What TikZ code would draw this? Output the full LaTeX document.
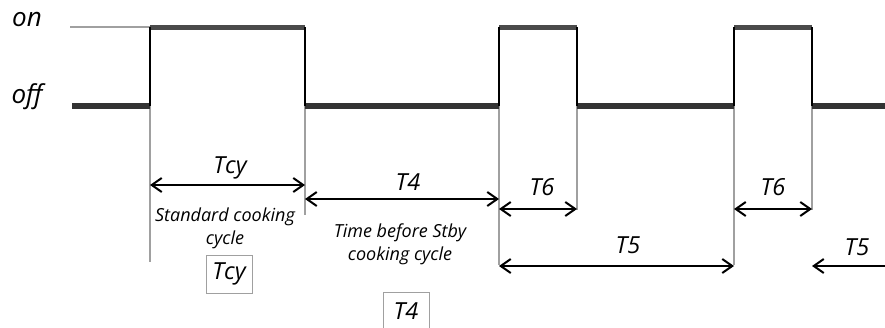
\documentclass[tikz,border=0pt]{standalone}
\usepackage{fontspec}
\setmainfont{Open Sans}
\usetikzlibrary{arrows.meta}
\definecolor{signalgray}{HTML}{333333}
\definecolor{pulsegray}{HTML}{4A4A4A}
\definecolor{guidegray}{HTML}{A0A0A0}
\begin{document}
\begin{tikzpicture}[x=1pt, y=-1pt,
    low/.style ={line width=6pt, signalgray},
    high/.style ={line width=5pt, pulsegray},
    edge/.style ={line width=1.6pt, black},
    guide/.style ={line width=1.4pt, guidegray},
    span/.style ={line width=2pt, {Straight Barb[length=10pt,width=14pt]}-{Straight Barb[length=10pt,width=14pt]}},
    halfspan/.style ={line width=2pt, -{Straight Barb[length=10pt,width=14pt]}},
    label/.style ={font=\itshape\fontsize{23.5}{25}\selectfont, inner sep=0pt},
    note/.style ={font=\itshape\fontsize{18}{23}\selectfont, align=center, inner sep=0pt},
    tag/.style ={label, draw=guidegray, line width=0.8pt, minimum width=46pt, minimum height=38pt}]
   \useasboundingbox (0,0) rectangle (885,327);

   % signal corners
   \coordinate (O) at (70,27);
   \coordinate (A) at (72,106);
   \coordinate (B) at (150,106);
   \coordinate (C) at (150,27);
   \coordinate (D) at (305,27);
   \coordinate (E) at (305,106);
   \coordinate (F) at (499,106);
   \coordinate (G) at (499,27);
   \coordinate (H) at (577,27);
   \coordinate (I) at (577,106);
   \coordinate (J) at (734,106);
   \coordinate (K) at (734,27);
   \coordinate (L) at (812,27);
   \coordinate (M) at (812,106);
   \coordinate (N) at (885,106);

   % guide line ends
   \coordinate (B1) at (150,262);
   \coordinate (E1) at (305,215);
   \coordinate (F1) at (499,265);
   \coordinate (I1) at (577,210);
   \coordinate (J1) at (734,265);
   \coordinate (M1) at (812,210);

   % arrow ends
   \coordinate (tcyA) at (150,185);
   \coordinate (tcyB) at (305,185);
   \coordinate (tfourA) at (305,199);
   \coordinate (tfourB) at (499,199);
   \coordinate (tsixA) at (499,209);
   \coordinate (tsixB) at (577,209);
   \coordinate (tsixC) at (734,209);
   \coordinate (tsixD) at (812,209);
   \coordinate (tfiveA) at (499,266);
   \coordinate (tfiveB) at (734,266);
   \coordinate (tfiveC) at (885,266);
   \coordinate (tfiveD) at (812,266);

   \node[label, font=\itshape\fontsize{26}{27}\selectfont] (on)  at (27,19)  {on};
   \node[label, font=\itshape\fontsize{26}{27}\selectfont] (off) at (27,97) {off};

   \draw[guide] (B) to (B1);
   \draw[guide] (E) to (E1);
   \draw[guide] (F) to (F1);
   \draw[guide] (I) to (I1);
   \draw[guide] (J) to (J1);
   \draw[guide] (M) to (M1);
   \draw[guide] (O) to (C);

   \draw[low] (A) to (B);
   \draw[low] (E) to (F);
   \draw[low] (I) to (J);
   \draw[low] (M) to (N);
   \draw[high] (C) to (D);
   \draw[high] (G) to (H);
   \draw[high] (K) to (L);

   \draw[edge] (B) to (C);
   \draw[edge] (D) to (E);
   \draw[edge] (F) to (G);
   \draw[edge] (H) to (I);
   \draw[edge] (J) to (K);
   \draw[edge] (L) to (M);

   \draw[span] (tcyA) to (tcyB);
   \draw[span] (tfourA) to (tfourB);
   \draw[span] (tsixA) to (tsixB);
   \draw[span] (tsixC) to (tsixD);
   \draw[span] (tfiveA) to (tfiveB);
   \draw[halfspan] (tfiveC) to (tfiveD);

   \node[label] (tcy)   at (230,168) {Tcy};
   \node[label] (tfour) at (408,182) {T4};
   \node[label] (tsix)  at (542,187) {T6};
   \node[label] (tsixb) at (773,187) {T6};
   \node[label] (tfive) at (628,245) {T5};
   \node[label] (tfiveb) at (857,247) {T5};

   \node[note] (standard) at (225,228) {Standard cooking\\cycle};
   \node[note] (stby)     at (400,244) {Time before Stby\\cooking cycle};

   \node[tag] (tcybox)   at (229,274) {Tcy};
   \node[tag] (tfourbox) at (406,311) {T4};
 \end{tikzpicture}
\end{document}
